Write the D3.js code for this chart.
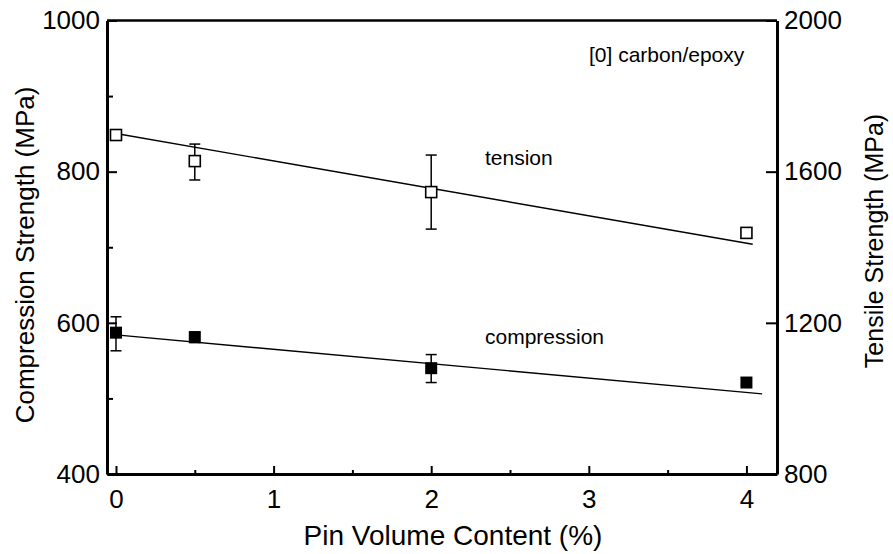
<!DOCTYPE html>
<html>
<head>
<meta charset="utf-8">
<script src="https://cdn.jsdelivr.net/npm/d3@7"></script>
<style>
  body { margin: 0; background: #fff; }
  svg { display: block; font-family: "Liberation Sans", Arial, Helvetica, sans-serif; }
  .axis text { font-size: 26px; fill: #000; }
  .axis line { stroke: #000; stroke-width: 2; }
  .axis path { stroke: #000; stroke-width: 3; }
</style>
</head>
<body>
<svg id="chart"></svg>
<script>
// Pin volume content (%)
const pinContent = [0, 0.5, 2, 4];

// tension (right axis, MPa)
const tensionMean = [1697, 1628, 1546, 1438];
const tensionHigh = [null, 1673, 1644, null];
const tensionLow = [null, 1578, 1448, null];

// compression (left axis, MPa)
const compressionMean = [587, 581, 540, 521];
const compressionHigh = [608, 588, 558, null];
const compressionLow = [563, 574, 521, null];

// linear fits
const tensionFitX = [0, 4.04];
const tensionFitY = [1701, 1408];
const compressionFitX = [0, 4.10];
const compressionFitY = [584, 506];

// ticks
const xMajor = [0, 1, 2, 3, 4];
const xMinor = [0.5, 1.5, 2.5, 3.5];
const leftMajor = [400, 600, 800, 1000];
const leftMinor = [500, 700, 900];
const rightMajor = [800, 1200, 1600, 2000];

const width = 893;
const height = 554;
const margin = { top: 20.5, right: 116, bottom: 80, left: 107 };
const innerW = width - margin.left - margin.right;
const innerH = height - margin.top - margin.bottom;

const svg = d3.select('#chart')
  .attr('width', width)
  .attr('height', height);

const g = svg.append('g')
  .attr('transform', `translate(${margin.left},${margin.top})`);

// scales
const x = d3.scaleLinear().domain([-0.057, 4.194]).range([0, innerW]);
const yL = d3.scaleLinear().domain([400, 1000]).range([innerH, 0]);
const yR = d3.scaleLinear().domain([800, 2000]).range([innerH, 0]);

// fit lines
const line = d3.line().x(d => x(d[0])).y(d => d[1]);

g.append('path')
  .attr('d', line(tensionFitX.map((v, i) => [v, yR(tensionFitY[i])])))
  .attr('fill', 'none')
  .attr('stroke', '#000')
  .attr('stroke-width', 1.4);

g.append('path')
  .attr('d', line(compressionFitX.map((v, i) => [v, yL(compressionFitY[i])])))
  .attr('fill', 'none')
  .attr('stroke', '#000')
  .attr('stroke-width', 1.4);

// error bars
function errorBars(lows, highs, yScale) {
  const cap = 5.5;
  pinContent.forEach((p, i) => {
    if (lows[i] == null) return;
    const cx = x(p);
    const eb = g.append('g').attr('stroke', '#000').attr('stroke-width', 1.5);
    eb.append('line').attr('x1', cx).attr('x2', cx)
      .attr('y1', yScale(lows[i])).attr('y2', yScale(highs[i]));
    eb.append('line').attr('x1', cx - cap).attr('x2', cx + cap)
      .attr('y1', yScale(lows[i])).attr('y2', yScale(lows[i]));
    eb.append('line').attr('x1', cx - cap).attr('x2', cx + cap)
      .attr('y1', yScale(highs[i])).attr('y2', yScale(highs[i]));
  });
}
errorBars(tensionLow, tensionHigh, yR);
errorBars(compressionLow, compressionHigh, yL);

// markers
const openSize = 11;
g.selectAll('.tension')
  .data(pinContent)
  .enter().append('rect')
  .attr('class', 'tension')
  .attr('x', d => x(d) - openSize / 2)
  .attr('y', (d, i) => yR(tensionMean[i]) - openSize / 2)
  .attr('width', openSize)
  .attr('height', openSize)
  .attr('fill', '#fff')
  .attr('stroke', '#000')
  .attr('stroke-width', 1.6);

const filledSize = 12;
g.selectAll('.compression')
  .data(pinContent)
  .enter().append('rect')
  .attr('class', 'compression')
  .attr('x', d => x(d) - filledSize / 2)
  .attr('y', (d, i) => yL(compressionMean[i]) - filledSize / 2)
  .attr('width', filledSize)
  .attr('height', filledSize)
  .attr('fill', '#000');

// frame: top line
g.append('line')
  .attr('x1', 0).attr('x2', innerW)
  .attr('y1', 0).attr('y2', 0)
  .attr('stroke', '#000')
  .attr('stroke-width', 2.6);

// bottom axis
g.append('g')
  .attr('class', 'axis')
  .attr('transform', `translate(0,${innerH})`)
  .call(d3.axisBottom(x).tickValues(xMinor).tickSize(-4).tickFormat(''))
  .call(a => a.select('.domain').remove());

g.append('g')
  .attr('class', 'axis')
  .attr('transform', `translate(0,${innerH})`)
  .call(d3.axisBottom(x).tickValues(xMajor).tickSize(-8).tickSizeOuter(0).tickPadding(16).tickFormat(d3.format('d')));

// left axis
g.append('g')
  .attr('class', 'axis')
  .call(d3.axisLeft(yL).tickValues(leftMinor).tickSize(-6).tickFormat(''))
  .call(a => a.select('.domain').remove());

g.append('g')
  .attr('class', 'axis')
  .call(d3.axisLeft(yL).tickValues(leftMajor).tickSize(-10).tickSizeOuter(0).tickPadding(7).tickFormat(d3.format('d')));

// right axis
g.append('g')
  .attr('class', 'axis')
  .attr('transform', `translate(${innerW},0)`)
  .call(d3.axisRight(yR).tickValues(rightMajor).tickSize(-11).tickSizeOuter(0).tickPadding(7).tickFormat(d3.format('d')));

// axis titles
svg.append('text')
  .attr('x', 453)
  .attr('y', 545)
  .attr('text-anchor', 'middle')
  .attr('font-size', 28)
  .text('Pin Volume Content (%)');

svg.append('text')
  .attr('transform', 'translate(34,255) rotate(-90)')
  .attr('text-anchor', 'middle')
  .attr('font-size', 26)
  .text('Compression Strength (MPa)');

svg.append('text')
  .attr('transform', 'translate(883,241) rotate(-90)')
  .attr('text-anchor', 'middle')
  .attr('font-size', 25)
  .text('Tensile Strength (MPa)');

// annotations
svg.append('text')
  .attr('x', 589).attr('y', 62)
  .attr('font-size', 21)
  .text('[0] carbon/epoxy');

svg.append('text')
  .attr('x', 485).attr('y', 165)
  .attr('font-size', 21)
  .text('tension');

svg.append('text')
  .attr('x', 485).attr('y', 344)
  .attr('font-size', 21)
  .text('compression');
</script>
</body>
</html>
